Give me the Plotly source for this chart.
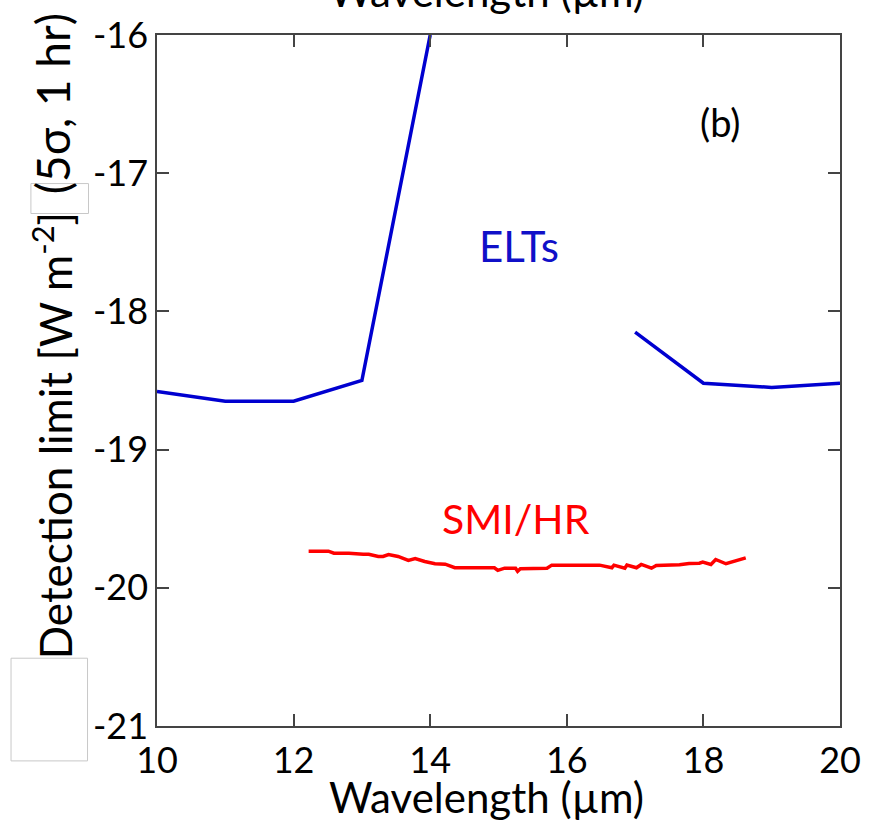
import plotly.graph_objects as go

# ELTs curve (blue)
elt_wl = [10, 11, 12, 13, 14, 15, 16, 17, 18, 19, 20]
elt_lim = [-18.58, -18.65, -18.65, -18.50, -16.0, None, None, -18.15, -18.52, -18.55, -18.52]

# SMI/HR curve (red)
smi_wl = [12.22, 12.51, 12.59, 12.81, 13.02, 13.10, 13.24, 13.31, 13.39, 13.53, 13.68, 13.78,
          13.92, 14.07, 14.22, 14.36, 14.94, 14.99, 15.09, 15.25, 15.28, 15.32, 15.71, 15.78,
          16.15, 16.48, 16.66, 16.69, 16.85, 16.88, 17.02, 17.09, 17.24, 17.31, 17.65, 17.79,
          17.94, 17.99, 18.11, 18.18, 18.33, 18.47, 18.62]
smi_lim = [-19.735, -19.735, -19.750, -19.750, -19.757, -19.757, -19.773, -19.773, -19.759, -19.773,
           -19.802, -19.788, -19.810, -19.826, -19.829, -19.855, -19.855, -19.874, -19.858, -19.858,
           -19.880, -19.862, -19.858, -19.836, -19.836, -19.836, -19.855, -19.836, -19.858, -19.836,
           -19.855, -19.831, -19.858, -19.838, -19.833, -19.824, -19.822, -19.814, -19.831, -19.795,
           -19.826, -19.805, -19.783]

x_ticks = [10, 12, 14, 16, 18, 20]
y_ticks = [-21, -20, -19, -18, -17, -16]

FONT = "Lato"

fig = go.Figure()
fig.add_trace(go.Scatter(x=elt_wl, y=elt_lim, mode="lines", connectgaps=False,
                         line=dict(color="#0000d0", width=3.5), showlegend=False))
fig.add_trace(go.Scatter(x=smi_wl, y=smi_lim, mode="lines",
                         line=dict(color="#ff0000", width=3.5), showlegend=False))

axis_common = dict(showgrid=False, zeroline=False, showline=True, linecolor="#444",
                   linewidth=1.5, mirror="ticks", ticks="inside", ticklen=12,
                   tickwidth=1.5, tickcolor="#444",
                   tickfont=dict(family=FONT, size=36, color="black"))

fig.update_xaxes(range=[10, 20], tickvals=x_ticks, ticktext=[str(v) for v in x_ticks],
                 ticklabelstandoff=2, **axis_common)
fig.update_yaxes(range=[-21, -16], tickvals=y_ticks, ticktext=[str(v) for v in y_ticks],
                 **axis_common)

annotations = [
    dict(text="ELTs", x=15.3, y=-17.53, xref="x", yref="y", showarrow=False,
         font=dict(family=FONT, size=42, color="#1010c8")),
    dict(text="SMI/HR", x=15.25, y=-19.5, xref="x", yref="y", showarrow=False,
         font=dict(family=FONT, size=41, color="#ff0000")),
    dict(text="(b)", x=18.25, y=-16.63, xref="x", yref="y", showarrow=False,
         font=dict(family=FONT, size=38, color="black")),
    dict(text="Wavelength (µm)", x=0.483, y=1 - (797 - 33) / 693, xref="paper", yref="paper",
         xanchor="center", yanchor="middle", showarrow=False,
         font=dict(family=FONT, size=42, color="black")),
    dict(text="Wavelength (µm)", x=0.483, y=1 + (33 + 11) / 693, xref="paper", yref="paper",
         xanchor="center", yanchor="middle", showarrow=False,
         font=dict(family=FONT, size=42, color="black")),
    dict(text="Detection limit [W m<sup>-2</sup>]", x=-0.153, y=1 - (435 - 33) / 693,
         xref="paper", yref="paper",
         xanchor="center", yanchor="middle", textangle=-90, showarrow=False,
         font=dict(family=FONT, size=44, color="black")),
    dict(text="(5σ, 1 hr)", x=-0.153, y=1.0 - (102 - 33) / 693, xref="paper", yref="paper",
         xanchor="center", yanchor="middle", textangle=-90, showarrow=False,
         font=dict(family=FONT, size=46, color="black")),
]

shapes = [
    dict(type="rect", xref="paper", yref="paper", x0=-0.1846, x1=-0.1003, y0=0.7417, y1=0.785,
         line=dict(color="#c8c8c8", width=1), fillcolor="white", layer="above"),
    dict(type="rect", xref="paper", yref="paper", x0=-0.2137, x1=-0.1017, y0=-0.0505, y1=0.0981,
         line=dict(color="#c8c8c8", width=1), fillcolor="white", layer="above"),
]

fig.update_layout(width=873, height=820, margin=dict(l=157, r=28, t=33, b=94),
                  paper_bgcolor="white", plot_bgcolor="white",
                  annotations=annotations, shapes=shapes,
                  font=dict(family=FONT))

fig.write_html("out.html")
